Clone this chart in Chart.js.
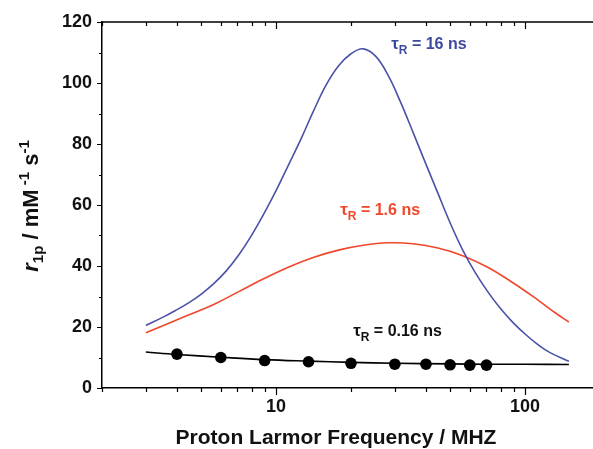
<!DOCTYPE html>
<html lang="en">
  <head>
    <meta charset="UTF-8" />
    <meta name="viewport" content="width=device-width, initial-scale=1.0" />
    <title>NMRD profiles</title>
    <script src="https://cdn.jsdelivr.net/npm/chart.js"></script>
    <style>
      html,
      body {
        margin: 0;
        padding: 0;
        background: #fff;
        overflow: hidden;
      }
      canvas {
        display: block;
      }
    </style>
  </head>
  <body>
    <canvas id="nmrdChart" width="606" height="449"></canvas>

    <script>
      // tau_R = 16 ns simulated profile
      const freq16 = [3, 3.55, 3.98, 4.47, 5.01, 5.62, 6.31, 7.08, 7.94, 8.91, 10, 11.2, 12.6, 14.1, 15.8, 17.8, 20, 22.4, 25.1, 28.2, 31.6, 35.5, 39.8, 44.7, 50.1, 56.2, 63.1, 70.8, 79.4, 89.1, 100, 112, 126, 150];
      const r16 = [20.5, 23.4, 25.6, 28.0, 30.8, 34.2, 38.4, 43.6, 49.8, 56.9, 64.7, 73.0, 81.7, 90.6, 99.0, 105.6, 109.6, 111.2, 108.8, 102.5, 93.8, 83.8, 73.8, 63.8, 54.0, 45.2, 37.8, 31.6, 26.2, 21.6, 17.7, 14.4, 11.6, 8.8];

      // tau_R = 1.6 ns simulated profile
      const freq1_6 = [3, 3.55, 4.47, 5.62, 7.08, 8.91, 11.2, 14.1, 17.8, 22.4, 28.2, 35.5, 44.7, 56.2, 70.8, 89.1, 112, 133, 150];
      const r1_6 = [18.1, 20.6, 24, 27.4, 31.6, 35.8, 39.6, 42.8, 45.2, 46.8, 47.6, 47.3, 45.9, 43.4, 39.6, 34.6, 29, 24.5, 21.6];

      // tau_R = 0.16 ns fit line
      const freqFit = [3, 4, 6, 9, 13.5, 20, 30, 50, 70, 100, 150];
      const rFit = [11.8, 11.0, 10.1, 9.3, 8.8, 8.4, 8.1, 7.9, 7.8, 7.8, 7.7];

      // measured points
      const freqMeas = [4, 6, 9, 13.5, 20, 30, 40, 50, 60, 70];
      const rMeas = [11.1, 10.0, 9.0, 8.6, 8.1, 7.8, 7.8, 7.6, 7.5, 7.5];

      const xMajorTicks = [10, 100];
      const xMinorTicks = [2, 3, 4, 5, 6, 7, 8, 9, 20, 30, 40, 50, 60, 70, 80, 90, 200];
      const yMajorTicks = [0, 20, 40, 60, 80, 100, 120];
      const yMinorTicks = [10, 30, 50, 70, 90, 110];

      const blue = "#4a52a8";
      const red = "#f0472c";

      const toPts = (xs, ys) => xs.map((x, i) => ({ x: x, y: ys[i] }));

      const BOLD = '"Liberation Sans", Arial, sans-serif';

      // curve labels, anchored in data units
      const curveLabels = [
        { text: " = 16 ns", at: [29, 111], color: "#3d49a0" },
        { text: " = 1.6 ns", at: [18.1, 56.7], color: red },
        { text: " = 0.16 ns", at: [20.4, 17.1], color: "#111" },
      ];

      function richText(ctx, parts, x, y) {
        let cx = x;
        parts.forEach((p) => {
          ctx.font = p.font;
          ctx.fillText(p.t, cx, y + (p.dy || 0));
          cx += ctx.measureText(p.t).width;
        });
        return cx - x;
      }

      function measureRich(ctx, parts) {
        let w = 0;
        parts.forEach((p) => {
          ctx.font = p.font;
          w += ctx.measureText(p.t).width;
        });
        return w;
      }

      const framePlugin = {
        id: "frame",
        afterDraw(chart) {
          const ctx = chart.ctx;
          const a = chart.chartArea;
          const xs = chart.scales.x;
          const ys = chart.scales.y;
          ctx.save();
          ctx.strokeStyle = "#000";
          ctx.lineWidth = 1.5;
          ctx.beginPath();
          ctx.moveTo(a.left, a.top);
          ctx.lineTo(a.right, a.top);
          ctx.lineTo(a.right, a.bottom);
          ctx.stroke();

          ctx.lineWidth = 1.2;
          ctx.beginPath();
          const xt = (v, len) => {
            const px = Math.round(xs.getPixelForValue(v)) + 0.5;
            ctx.moveTo(px, a.bottom);
            ctx.lineTo(px, a.bottom + len);
            ctx.moveTo(px, a.top);
            ctx.lineTo(px, a.top + len);
          };
          const yt = (v, len) => {
            const py = Math.round(ys.getPixelForValue(v)) + 0.5;
            ctx.moveTo(a.left, py);
            ctx.lineTo(a.left - len, py);
            ctx.moveTo(a.right, py);
            ctx.lineTo(a.right - len, py);
          };
          xMajorTicks.forEach((v) => xt(v, 7));
          xMinorTicks.forEach((v) => xt(v, 4));
          yMajorTicks.forEach((v) => yt(v, 5));
          yMinorTicks.forEach((v) => yt(v, 3));
          ctx.stroke();

          // x title
          ctx.fillStyle = "#111";
          ctx.font = "bold 21px " + BOLD;
          ctx.textAlign = "center";
          ctx.textBaseline = "alphabetic";
          ctx.fillText("Proton Larmor Frequency / MHZ", 336, 444);

          // y title
          ctx.textAlign = "left";
          const yParts = [
            { t: "r", font: "italic bold 22px " + BOLD },
            { t: "1p", font: "bold 15px " + BOLD, dy: 5 },
            { t: " / mM", font: "bold 22px " + BOLD },
            { t: " -1", font: "bold 15px " + BOLD, dy: -9 },
            { t: " s", font: "bold 22px " + BOLD },
            { t: "-1", font: "bold 15px " + BOLD, dy: -9 },
          ];
          const w = measureRich(ctx, yParts);
          ctx.save();
          ctx.translate(38, 206);
          ctx.rotate(-Math.PI / 2);
          richText(ctx, yParts, -w / 2, 0);
          ctx.restore();

          // curve labels
          curveLabels.forEach((l) => {
            ctx.fillStyle = l.color;
            const px = xs.getPixelForValue(l.at[0]);
            const py = ys.getPixelForValue(l.at[1]);
            const parts = [
              { t: "\u03c4", font: "bold 17px " + BOLD },
              { t: "R", font: "bold 12px " + BOLD, dy: 5 },
              { t: l.text, font: "bold 16px " + BOLD },
            ];
            richText(ctx, parts, px, py);
          });
          ctx.restore();
        },
      };

      const ctx = document.getElementById("nmrdChart").getContext("2d");
      new Chart(ctx, {
        type: "line",
        data: {
          datasets: [
            {
              label: "16 ns",
              data: toPts(freq16, r16),
              borderColor: blue,
              borderWidth: 1.6,
              pointRadius: 0,
              tension: 0.4,
            },
            {
              label: "1.6 ns",
              data: toPts(freq1_6, r1_6),
              borderColor: red,
              borderWidth: 1.6,
              pointRadius: 0,
              tension: 0.4,
            },
            {
              label: "0.16 ns fit",
              data: toPts(freqFit, rFit),
              borderColor: "#000",
              borderWidth: 1.6,
              pointRadius: 0,
              tension: 0.4,
            },
            {
              label: "measured",
              data: toPts(freqMeas, rMeas),
              showLine: false,
              pointRadius: 5.8,
              pointBackgroundColor: "#000",
              pointBorderWidth: 0,
            },
          ],
        },
        options: {
          responsive: false,
          animation: false,
          layout: { padding: { top: 22, right: 6, left: 0, bottom: 0 } },
          plugins: {
            legend: { display: false },
            tooltip: { enabled: false },
          },
          scales: {
            x: {
              type: "logarithmic",
              min: 2,
              max: 200,
              border: { color: "#000", width: 1.5 },
              grid: { display: false, drawTicks: false },
              afterBuildTicks: (s) => {
                s.ticks = xMajorTicks.map((v) => ({ value: v }));
              },
              afterFit: (s) => {
                s.height = 61;
              },
              ticks: {
                color: "#111",
                padding: 8,
                maxRotation: 0,
                autoSkip: false,
                font: { family: BOLD, size: 18, weight: "bold" },
                callback: (v) => String(v),
              },
            },
            y: {
              min: 0,
              max: 120,
              border: { color: "#000", width: 1.5 },
              grid: { display: false, drawTicks: false },
              afterBuildTicks: (s) => {
                s.ticks = yMajorTicks.map((v) => ({ value: v }));
              },
              afterFit: (s) => {
                s.width = 102;
              },
              ticks: {
                color: "#111",
                padding: 10,
                font: { family: BOLD, size: 18, weight: "bold" },
              },
            },
          },
        },
        plugins: [framePlugin],
      });
    </script>
  </body>
</html>
